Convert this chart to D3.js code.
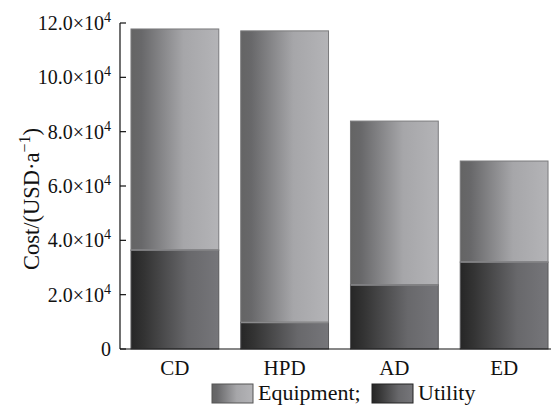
<!DOCTYPE html>
<html>
<head>
<meta charset="utf-8">
<script src="https://cdn.jsdelivr.net/npm/d3@7"></script>
<style>
  body { margin: 0; background: #fff; }
  text { font-family: "Liberation Serif", "Times New Roman", serif; fill: #111; }
</style>
</head>
<body>
<svg id="chart" width="552" height="405"></svg>
<script>
// data
var categories = ["CD", "HPD", "AD", "ED"];
var utility    = [36400, 9800, 23600, 32000];
var totals     = [117800, 117100, 83900, 69200];   // utility + equipment (bar tops)
var equipment  = totals.map(function(t, i){ return t - utility[i]; });
var yTicks     = [0, 20000, 40000, 60000, 80000, 100000, 120000];

var svg = d3.select("#chart");
var margin = {left: 120, top: 23, bottom: 56};
var W = 552, H = 405;

var x = d3.scaleBand().domain(categories).range([margin.left, 559])
          .paddingInner(0.2).paddingOuter(0.1);
var y = d3.scaleLinear().domain([0, 120000]).range([H - margin.bottom, margin.top]);

// gradients
var defs = svg.append("defs");
function grad(id, stops){
  var g = defs.append("linearGradient").attr("id", id)
     .attr("x1", "0%").attr("x2", "100%").attr("y1", "0%").attr("y2", "0%");
  stops.forEach(function(s){ g.append("stop").attr("offset", s[0]).attr("stop-color", s[1]); });
}
grad("gEquip", [["0%", "#646464"], ["12%", "#68686a"], ["60%", "#a6a6a9"], ["100%", "#b4b4b7"]]);
grad("gUtil",  [["0%", "#262626"], ["15%", "#333333"], ["65%", "#68686b"], ["100%", "#76767a"]]);

var stacked = categories.map(function(c, i){
  return {cat: c, util: utility[i], equip: equipment[i]};
});

var bars = svg.append("g").selectAll("g").data(stacked).join("g");

bars.append("rect")
  .attr("x", function(d){ return x(d.cat); })
  .attr("width", x.bandwidth())
  .attr("y", function(d){ return y(d.util + d.equip); })
  .attr("height", function(d){ return y(d.util) - y(d.util + d.equip); })
  .attr("fill", "url(#gEquip)")
  .attr("stroke", "#7a7a7c").attr("stroke-width", 1);

bars.append("rect")
  .attr("x", function(d){ return x(d.cat); })
  .attr("width", x.bandwidth())
  .attr("y", function(d){ return y(d.util); })
  .attr("height", function(d){ return y(0) - y(d.util); })
  .attr("fill", "url(#gUtil)")
  .attr("stroke", "#58585a").attr("stroke-width", 1);

// separator line between stacks
bars.append("line")
  .attr("x1", function(d){ return x(d.cat); })
  .attr("x2", function(d){ return x(d.cat) + x.bandwidth(); })
  .attr("y1", function(d){ return y(d.util); })
  .attr("y2", function(d){ return y(d.util); })
  .attr("stroke", "#8a8a8c").attr("stroke-width", 1.5);

// axes
var axis = svg.append("g").attr("stroke", "#111").attr("stroke-width", 1.2);
axis.append("line").attr("x1", margin.left).attr("x2", margin.left)
    .attr("y1", y(120000)).attr("y2", y(0));
axis.append("line").attr("x1", margin.left).attr("x2", 551)
    .attr("y1", y(0)).attr("y2", y(0));
axis.selectAll(".tk").data(yTicks).join("line")
    .attr("x1", margin.left).attr("x2", margin.left + 6)
    .attr("y1", function(d){ return y(d); }).attr("y2", function(d){ return y(d); });

var tl = svg.append("g").selectAll("text").data(yTicks).join("text")
  .attr("x", 111).attr("y", function(d){ return y(d) + 7; })
  .attr("text-anchor", "end").style("font-size", "20px");
tl.each(function(d){
  var t = d3.select(this);
  if (d === 0) { t.text("0"); return; }
  t.append("tspan").text((d / 10000).toFixed(1) + "\u00d710");
  t.append("tspan").attr("dy", -8).style("font-size", "14px").text("4");
});

// category labels
svg.append("g").selectAll("text").data(categories).join("text")
  .attr("x", function(d){ return x(d) + x.bandwidth() / 2; })
  .attr("y", 375).attr("text-anchor", "middle").style("font-size", "21px")
  .text(function(d){ return d; });

// y label
var yl = svg.append("text")
  .attr("transform", "translate(39,199) rotate(-90)")
  .attr("text-anchor", "middle").style("font-size", "22.5px");
yl.append("tspan").text("Cost/(USD\u00b7a");
yl.append("tspan").attr("dy", -9).style("font-size", "16px").text("\u22121");
yl.append("tspan").attr("dy", 9).text(")");

// legend
var legendItems = [
  {label: "Equipment;", fill: "url(#gEquip)", stroke: "#555", x: 212},
  {label: "Utility", fill: "url(#gUtil)", stroke: "#222", x: 372}
];
var lg = svg.append("g").selectAll("g").data(legendItems).join("g");
lg.append("rect").attr("x", function(d){ return d.x; }).attr("y", 384)
  .attr("width", 41).attr("height", 19)
  .attr("fill", function(d){ return d.fill; })
  .attr("stroke", function(d){ return d.stroke; });
lg.append("text").attr("x", function(d){ return d.x + 46; }).attr("y", 400)
  .style("font-size", "22px").text(function(d){ return d.label; });
</script>
</body>
</html>
